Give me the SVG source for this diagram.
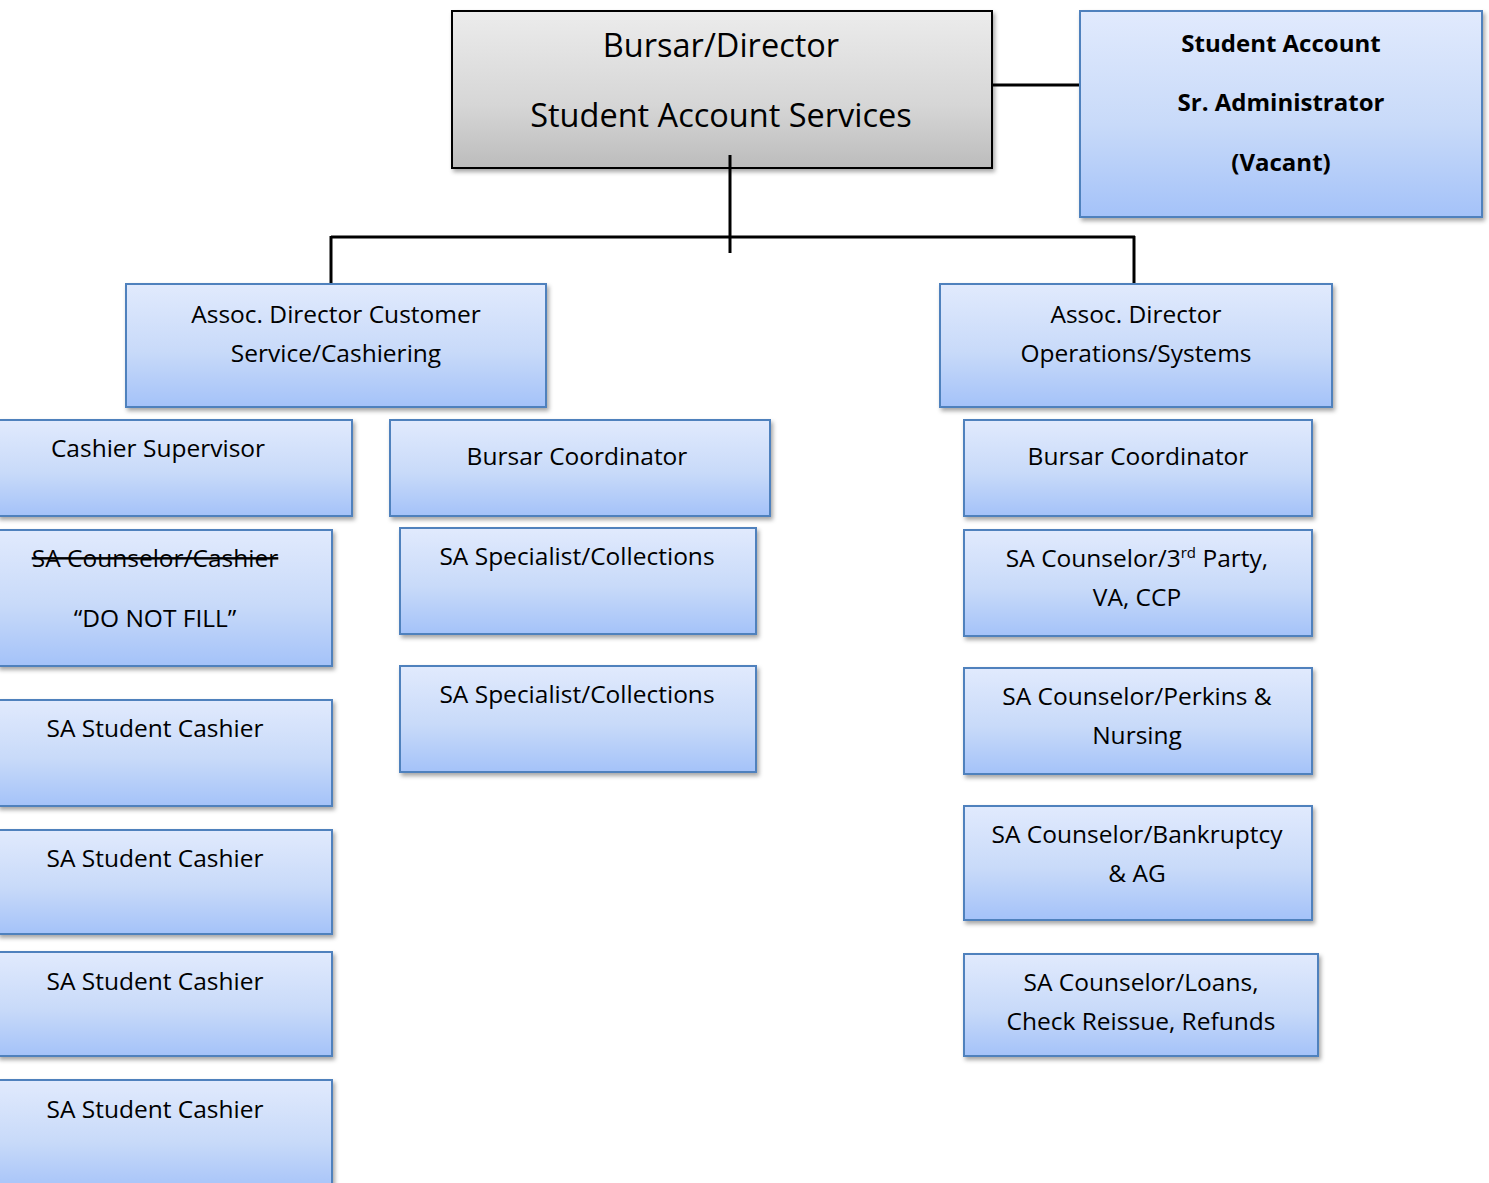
<svg xmlns="http://www.w3.org/2000/svg" width="1489" height="1183" viewBox="0 0 1489 1183">
  <defs>
    <linearGradient id="gBlue" x1="0" y1="0" x2="0" y2="1">
      <stop offset="0" stop-color="#e1eafd"/>
      <stop offset="0.55" stop-color="#c8daf9"/>
      <stop offset="1" stop-color="#a4c2f9"/>
    </linearGradient>
    <linearGradient id="gGray" x1="0" y1="0" x2="0" y2="1">
      <stop offset="0" stop-color="#ececec"/>
      <stop offset="0.6" stop-color="#d6d6d6"/>
      <stop offset="1" stop-color="#bcbcbc"/>
    </linearGradient>
    <filter id="shadow" x="-5%" y="-5%" width="112%" height="120%">
      <feDropShadow dx="2" dy="3" stdDeviation="2" flood-color="#000" flood-opacity="0.35"/>
    </filter>
  </defs>
  <style>
    .box { fill: url(#gBlue); stroke: #4f81bd; stroke-width: 2; filter: url(#shadow); }
    .top { fill: url(#gGray); stroke: #000; stroke-width: 2; filter: url(#shadow); }
    text { font-family: "Open Sans", "Noto Sans", "Liberation Sans", sans-serif; fill: #000; text-anchor: middle; }
    .t { font-size: 24.5px; }
    .big { font-size: 32.5px; }
    .bold { font-size: 24px; font-weight: bold; }
    .strike { text-decoration: line-through; }
    .conn { stroke: #000; stroke-width: 3; fill: none; }
  </style>

  <rect width="1489" height="1183" fill="#fff"/>

  <!-- connectors -->
  <g id="connectors">
    <line class="conn" x1="992" y1="85" x2="1080" y2="85"/>
    <line class="conn" x1="730" y1="155" x2="730" y2="253"/>
    <line class="conn" x1="331" y1="237" x2="1135" y2="237"/>
    <line class="conn" x1="331" y1="236" x2="331" y2="291"/>
    <line class="conn" x1="1134" y1="236" x2="1134" y2="291"/>
  </g>

  <g id="bursar-director">
    <rect class="top" x="452" y="11" width="540" height="157"/>
    <text class="big" x="721" y="57">Bursar/Director</text>
    <text class="big" x="721" y="127">Student Account Services</text>
    <line class="conn" x1="730" y1="155" x2="730" y2="168"/>
  </g>

  <g id="sr-administrator">
    <rect class="box" x="1080" y="11" width="402" height="206"/>
    <text class="bold" x="1281" y="52">Student Account</text>
    <text class="bold" x="1281" y="111">Sr. Administrator</text>
    <text class="bold" x="1281" y="171">(Vacant)</text>
  </g>

  <g id="assoc-customer-service">
    <rect class="box" x="126" y="284" width="420" height="123"/>
    <text class="t" x="336" y="323">Assoc. Director Customer</text>
    <text class="t" x="336" y="362">Service/Cashiering</text>
  </g>

  <g id="assoc-operations">
    <rect class="box" x="940" y="284" width="392" height="123"/>
    <text class="t" x="1136" y="323">Assoc. Director</text>
    <text class="t" x="1136" y="362">Operations/Systems</text>
  </g>

  <g id="cashier-supervisor">
    <rect class="box" x="-2" y="420" width="354" height="96"/>
    <text class="t" x="158" y="457">Cashier Supervisor</text>
  </g>

  <g id="bursar-coordinator-left">
    <rect class="box" x="390" y="420" width="380" height="96"/>
    <text class="t" x="577" y="465">Bursar Coordinator</text>
  </g>

  <g id="bursar-coordinator-right">
    <rect class="box" x="964" y="420" width="348" height="96"/>
    <text class="t" x="1138" y="465">Bursar Coordinator</text>
  </g>

  <g id="sa-counselor-cashier">
    <rect class="box" x="-2" y="530" width="334" height="136"/>
    <text class="t strike" x="155" y="567">SA Counselor/Cashier</text>
    <text class="t" x="155" y="627">“DO NOT FILL”</text>
  </g>

  <g id="sa-specialist-1">
    <rect class="box" x="400" y="528" width="356" height="106"/>
    <text class="t" x="577" y="565">SA Specialist/Collections</text>
  </g>

  <g id="sa-specialist-2">
    <rect class="box" x="400" y="666" width="356" height="106"/>
    <text class="t" x="577" y="703">SA Specialist/Collections</text>
  </g>

  <g id="sa-counselor-third-party">
    <rect class="box" x="964" y="530" width="348" height="106"/>
    <text class="t" x="1137" y="567">SA Counselor/3<tspan font-size="15" dy="-9">rd</tspan><tspan dy="9"> Party,</tspan></text>
    <text class="t" x="1137" y="606">VA, CCP</text>
  </g>

  <g id="sa-counselor-perkins">
    <rect class="box" x="964" y="668" width="348" height="106"/>
    <text class="t" x="1137" y="705">SA Counselor/Perkins &amp;</text>
    <text class="t" x="1137" y="744">Nursing</text>
  </g>

  <g id="sa-counselor-bankruptcy">
    <rect class="box" x="964" y="806" width="348" height="114"/>
    <text class="t" x="1137" y="843">SA Counselor/Bankruptcy</text>
    <text class="t" x="1137" y="882">&amp; AG</text>
  </g>

  <g id="sa-counselor-loans">
    <rect class="box" x="964" y="954" width="354" height="102"/>
    <text class="t" x="1141" y="991">SA Counselor/Loans,</text>
    <text class="t" x="1141" y="1030">Check Reissue, Refunds</text>
  </g>

  <g id="sa-student-cashier-1">
    <rect class="box" x="-2" y="700" width="334" height="106"/>
    <text class="t" x="155" y="737">SA Student Cashier</text>
  </g>

  <g id="sa-student-cashier-2">
    <rect class="box" x="-2" y="830" width="334" height="104"/>
    <text class="t" x="155" y="867">SA Student Cashier</text>
  </g>

  <g id="sa-student-cashier-3">
    <rect class="box" x="-2" y="952" width="334" height="104"/>
    <text class="t" x="155" y="990">SA Student Cashier</text>
  </g>

  <g id="sa-student-cashier-4">
    <rect class="box" x="-2" y="1080" width="334" height="112"/>
    <text class="t" x="155" y="1118">SA Student Cashier</text>
  </g>
</svg>
